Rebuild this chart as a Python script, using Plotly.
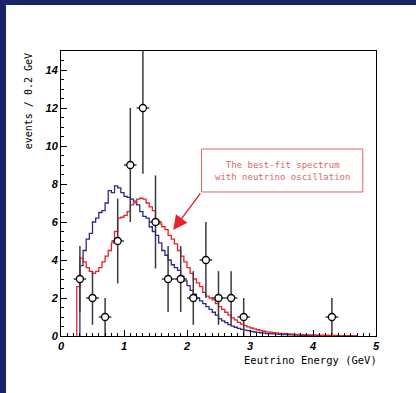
import numpy as np
import plotly.graph_objects as go

# ---- data ----
data_energy = [0.3, 0.5, 0.7, 0.9, 1.1, 1.3, 1.5, 1.7, 1.9, 2.1, 2.3, 2.5, 2.7, 2.9, 4.3]
data_events = [3, 2, 1, 5, 9, 12, 6, 3, 3, 2, 4, 2, 2, 1, 1]
bin_half_width = 0.1

hist_bin_width = 0.05
red_start = 0.25
red_values = [2.6, 4.1, 3.9, 3.6, 3.4, 3.3, 3.4, 3.6, 3.9, 4.2,
              4.5, 4.9, 5.5, 6.2, 6.25, 6.35, 6.55, 6.9, 7.0, 7.2,
              7.25, 7.2, 7.0, 6.8, 6.6, 6.1, 5.9, 5.75, 5.6, 5.3,
              5.1, 4.85, 4.5, 4.2, 3.9, 3.6, 3.3, 3.0, 2.8, 2.6,
              2.3, 2.1, 2.0, 1.9, 1.7, 1.55, 1.4, 1.25, 1.1, 0.95,
              0.85, 0.72, 0.62, 0.55, 0.48, 0.42, 0.38, 0.33, 0.29, 0.25,
              0.22, 0.2, 0.18, 0.16, 0.14, 0.13, 0.12, 0.11, 0.1, 0.09,
              0.08, 0.07, 0.07, 0.06, 0.06, 0.05, 0.05, 0.04, 0.04, 0.04,
              0.03, 0.03, 0.03, 0.02, 0.02, 0.02, 0.02, 0.01, 0.01]
blue_start = 0.30
blue_values = [3.7, 4.5, 5.1, 5.4, 6.0, 6.2, 6.5, 6.6, 7.0, 7.65,
               7.55, 7.9, 7.8, 7.55, 7.35, 7.3, 7.2, 7.1, 6.9, 6.55,
               6.3, 6.2, 5.75, 5.5, 5.3, 4.9, 4.5, 4.25, 4.0, 3.75,
               3.6, 3.45, 3.15, 2.9, 2.65, 2.4, 2.2, 2.0, 1.85, 1.7,
               1.55, 1.4, 1.25, 1.1, 0.9, 0.8, 0.7, 0.6, 0.52, 0.46,
               0.4, 0.35, 0.31, 0.28, 0.24, 0.21, 0.19, 0.17, 0.15, 0.13,
               0.12, 0.11, 0.1, 0.09, 0.08, 0.07, 0.065, 0.06, 0.05, 0.05,
               0.04, 0.04, 0.035, 0.03, 0.03, 0.025, 0.02, 0.02, 0.02, 0.015,
               0.01, 0.01, 0.01, 0.01, 0.005, 0.005, 0.005, 0.0]

x_tick_vals = [0, 1, 2, 3, 4, 5]
y_tick_vals = [0, 2, 4, 6, 8, 10, 12, 14]
x_title = "Eeutrino Energy (GeV)"
y_title = "events / 0.2 GeV"
note_text = "The best-fit spectrum<br>with neutrino oscillation"


def step_xy(start, width, values):
    edges = start + width * np.arange(len(values) + 1)
    xs = np.concatenate([[edges[0]], edges])
    ys = np.concatenate([[0.0], values, [0.0]])
    return xs, ys


rx, ry = step_xy(red_start, hist_bin_width, red_values)
bx, by = step_xy(blue_start, hist_bin_width, blue_values)

fig = go.Figure()
fig.add_trace(go.Scatter(x=bx, y=by, mode="lines", line=dict(color="#2e2a8c", width=1.3, shape="hv"),
                         showlegend=False, hoverinfo="skip"))
fig.add_trace(go.Scatter(x=rx, y=ry, mode="lines", line=dict(color="#e8222a", width=1.3, shape="hv"),
                         showlegend=False, hoverinfo="skip"))
fig.add_trace(go.Scatter(
    x=data_energy, y=data_events, mode="markers",
    marker=dict(symbol="circle", size=7, color="white", line=dict(color="black", width=1.3)),
    error_y=dict(type="data", array=list(np.sqrt(data_events)), visible=True,
                 color="#3a3a3a", thickness=1.5, width=0),
    error_x=dict(type="constant", value=bin_half_width, visible=True,
                 color="#3a3a3a", thickness=1.5, width=0),
    showlegend=False, hoverinfo="skip"))

tickfont = dict(family="Liberation Sans", size=11, color="black", weight="bold", style="italic")
fig.update_xaxes(range=[0, 5], showgrid=False, zeroline=False, showline=True, linecolor="black",
                 linewidth=1, mirror=True, ticks="inside", ticklen=6, tickcolor="black",
                 tickvals=x_tick_vals, ticktext=[str(v) for v in x_tick_vals], tickfont=tickfont,
                 automargin=False,
                 minor=dict(ticks="inside", dtick=0.1, ticklen=3, tickcolor="black"))
fig.update_yaxes(range=[0, 15], showgrid=False, zeroline=False, showline=True, linecolor="black",
                 linewidth=1, mirror=True, ticks="inside", ticklen=6, tickcolor="black",
                 tickvals=y_tick_vals, ticktext=[str(v) for v in y_tick_vals], tickfont=tickfont,
                 automargin=False,
                 minor=dict(ticks="inside", dtick=0.5, ticklen=3, tickcolor="black"))

mono = "DejaVu Sans Mono"
annotations = [
    dict(text=x_title, xref="paper", yref="paper", x=1.01, y=-0.055, xanchor="right", yanchor="top",
         showarrow=False, font=dict(family=mono, size=10.5, color="black")),
    dict(text=y_title, xref="paper", yref="paper", x=-0.08, y=1.0, xanchor="right", yanchor="top",
         textangle=-90, showarrow=False, font=dict(family=mono, size=10, color="black")),
    dict(text=note_text, xref="x", yref="y", x=3.51, y=8.71, showarrow=False,
         font=dict(family=mono, size=9, color="#e06666"), align="center"),
    dict(text="", xref="x", yref="y", x=1.78, y=5.58, axref="x", ayref="y", ax=2.23, ay=7.58,
         showarrow=True, arrowhead=2, arrowsize=2.2, arrowwidth=1.3, arrowcolor="#e8222a"),
]
shapes = [
    dict(type="rect", xref="x", yref="y", x0=2.23, x1=4.79, y0=7.58, y1=9.84,
         line=dict(color="#e06666", width=1), fillcolor="rgba(0,0,0,0)"),
    dict(type="rect", xref="paper", yref="paper", x0=-0.2, x1=(6 - 61) / 315, y0=-0.2, y1=1.2,
         line=dict(width=0), fillcolor="#1b2466", layer="below"),
    dict(type="rect", xref="paper", yref="paper", x0=-0.2, x1=1.2, y0=(336 - 5) / 285, y1=1.2,
         line=dict(width=0), fillcolor="#1b2466", layer="below"),
]

fig.update_layout(width=416, height=393, margin=dict(l=61, r=40, t=51, b=57),
                  paper_bgcolor="white", plot_bgcolor="white",
                  annotations=annotations, shapes=shapes)
fig.write_html("out.html", config={"displayModeBar": False},
               post_script="document.body.style.margin='0';document.body.style.overflow='hidden';")
